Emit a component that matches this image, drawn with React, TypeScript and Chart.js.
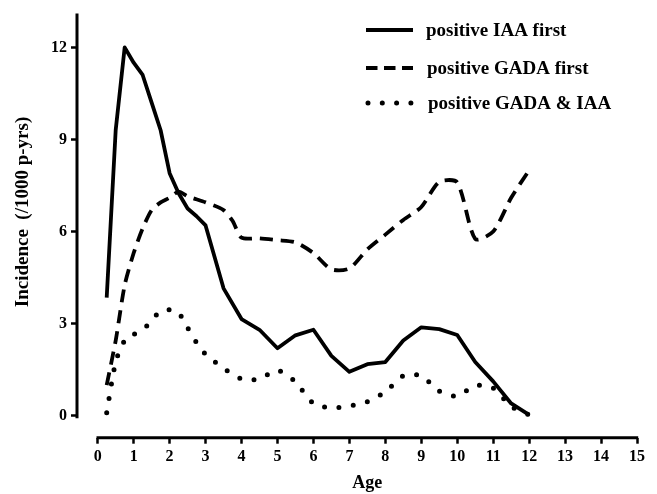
import React, { useEffect, useRef } from "react";
import { Chart, registerables } from "chart.js";

Chart.register(...registerables);

// Age (years) and incidence (/1000 person-years) per series
const ageIAA = [0.25, 0.5, 0.75, 1, 1.25, 1.5, 1.75, 2, 2.25, 2.5, 2.75, 3, 3.5, 4, 4.5, 5, 5.5, 6, 6.5, 7, 7.5, 8, 8.5, 9, 9.5, 10, 10.5, 11, 11.5, 12];
const valIAA = [3.85, 9.3, 12.0, 11.5, 11.1, 10.2, 9.3, 7.9, 7.25, 6.75, 6.5, 6.2, 4.15, 3.15, 2.8, 2.2, 2.62, 2.8, 1.95, 1.43, 1.68, 1.75, 2.45, 2.88, 2.82, 2.63, 1.75, 1.12, 0.4, 0.03];

const ageGADA = [0.25, 0.5, 0.75, 1, 1.25, 1.5, 1.75, 2, 2.25, 2.5, 3, 3.5, 3.75, 4, 4.5, 5, 5.5, 6, 6.5, 7, 7.5, 8, 8.5, 9, 9.5, 10, 10.5, 11, 11.5, 12];
const valGADA = [1.0, 2.45, 4.25, 5.3, 6.1, 6.7, 6.95, 7.1, 7.3, 7.15, 6.95, 6.7, 6.35, 5.8, 5.78, 5.72, 5.65, 5.3, 4.77, 4.8, 5.42, 5.9, 6.38, 6.8, 7.62, 7.6, 5.76, 6.0, 7.1, 8.0];

const ageBoth = [0.25, 0.5, 0.75, 1, 1.25, 1.5, 1.75, 2, 2.25, 2.5, 2.75, 3, 3.5, 4, 4.5, 5, 5.5, 6, 6.5, 7, 7.5, 8, 8.5, 9, 9.5, 10, 10.5, 11, 11.5, 12];
const valBoth = [0.1, 1.75, 2.45, 2.65, 2.8, 3.1, 3.42, 3.45, 3.35, 2.87, 2.38, 2.0, 1.55, 1.2, 1.2, 1.48, 1.1, 0.4, 0.26, 0.32, 0.46, 0.78, 1.3, 1.3, 0.8, 0.64, 0.98, 0.9, 0.3, 0.03];

const seriesLabels = ["positive IAA first", "positive GADA first", "positive GADA & IAA"];
const xTicks = [0, 1, 2, 3, 4, 5, 6, 7, 8, 9, 10, 11, 12, 13, 14, 15];
const yTicks = [0, 3, 6, 9, 12];
const xTitle = "Age";
const yTitle = "Incidence  (/1000 p-yrs)";

const FONT = '"Liberation Serif", "Times New Roman", serif';

const toPts = (xs: number[], ys: number[]) => xs.map((x, i) => ({ x, y: ys[i] }));

const decorPlugin = {
  id: "decor",
  afterDraw(chart: any) {
    const ctx = chart.ctx;
    const xs = chart.scales.x;
    const ys = chart.scales.y;
    const area = chart.chartArea;
    ctx.save();
    ctx.strokeStyle = "#000";
    ctx.fillStyle = "#000";
    ctx.lineCap = "butt";
    ctx.setLineDash([]);
    // y axis line
    ctx.lineWidth = 3;
    ctx.beginPath();
    ctx.moveTo(area.left, area.top);
    ctx.lineTo(area.left, ys.getPixelForValue(-0.08));
    ctx.stroke();
    // x axis line (offset)
    ctx.beginPath();
    ctx.moveTo(xs.getPixelForValue(0) - 1.2, area.bottom);
    ctx.lineTo(xs.getPixelForValue(15) + 1.2, area.bottom);
    ctx.stroke();

    // titles
    ctx.textAlign = "center";
    ctx.textBaseline = "alphabetic";
    ctx.font = `bold 18px ${FONT}`;
    const xc = (xs.getPixelForValue(0) + xs.getPixelForValue(15)) / 2;
    ctx.fillText(xTitle, xc, 488);
    ctx.save();
    ctx.font = `bold 19px ${FONT}`;
    ctx.translate(28, 212);
    ctx.rotate(-Math.PI / 2);
    ctx.fillText(yTitle, 0, 0);
    ctx.restore();

    // legend
    const rows = [30, 68, 103];
    const textX = [426, 427, 428];
    chart.data.datasets.forEach((ds: any, i: number) => {
      const y = rows[i];
      ctx.save();
      ctx.strokeStyle = ds.borderColor;
      ctx.lineWidth = ds.borderWidth;
      ctx.lineCap = ds.borderCapStyle || "butt";
      if (i === 1) ctx.setLineDash([11.5, 6.5]);
      else if (i === 2) ctx.setLineDash([0, 14.3]);
      else ctx.setLineDash([]);
      ctx.beginPath();
      ctx.moveTo(i === 2 ? 368 : 366, y);
      ctx.lineTo(413, y);
      ctx.stroke();
      ctx.restore();
      ctx.font = `bold 19px ${FONT}`;
      ctx.textAlign = "left";
      ctx.textBaseline = "middle";
      ctx.fillText(ds.label, textX[i], y + 1);
    });
    ctx.restore();
  },
};

export default function App() {
  const ref = useRef<HTMLCanvasElement | null>(null);
  useEffect(() => {
    document.body.style.margin = "0";
    if (!ref.current) return;
    const chart = new Chart(ref.current, {
      type: "line",
      data: {
        datasets: [
          {
            label: seriesLabels[0],
            data: toPts(ageIAA, valIAA),
            borderColor: "#000",
            borderWidth: 3.8,
            tension: 0,
            pointRadius: 0,
            borderCapStyle: "butt",
            borderJoinStyle: "round",
          },
          {
            label: seriesLabels[1],
            data: toPts(ageGADA, valGADA),
            borderColor: "#000",
            borderWidth: 3.8,
            borderDash: [13, 8],
            tension: 0.25,
            pointRadius: 0,
            borderCapStyle: "butt",
          },
          {
            label: seriesLabels[2],
            data: toPts(ageBoth, valBoth),
            borderColor: "#000",
            borderWidth: 5,
            borderDash: [0, 14.5],
            tension: 0.25,
            pointRadius: 0,
            borderCapStyle: "round",
          },
        ],
      },
      options: {
        animation: false,
        responsive: false,
        events: [],
        layout: { padding: { top: 13, right: 20, left: 0, bottom: 0 } },
        plugins: {
          legend: { display: false },
          tooltip: { enabled: false },
          title: { display: false },
        },
        scales: {
          x: {
            type: "linear",
            min: -0.576,
            max: 15,
            afterBuildTicks: (s: any) => {
              s.ticks = xTicks.map((v) => ({ value: v }));
            },
            afterFit: (s: any) => {
              s.height = 56.3;
            },
            ticks: {
              autoSkip: false,
              maxRotation: 0,
              padding: 4,
              color: "#000",
              font: { family: FONT, size: 16, weight: "bold" },
              callback: (v: any) => String(v),
            },
            grid: {
              display: true,
              drawOnChartArea: false,
              drawTicks: true,
              tickLength: 6,
              tickWidth: 2.5,
              tickColor: "#000",
            },
            border: { display: false },
          },
          y: {
            type: "linear",
            min: -0.715,
            max: 13.1,
            afterBuildTicks: (s: any) => {
              s.ticks = yTicks.map((v) => ({ value: v }));
            },
            afterFit: (s: any) => {
              s.width = 77;
            },
            ticks: {
              autoSkip: false,
              padding: 4,
              color: "#000",
              font: { family: FONT, size: 16, weight: "bold" },
              callback: (v: any) => String(v),
            },
            grid: {
              display: true,
              drawOnChartArea: false,
              drawTicks: true,
              tickLength: 6,
              tickWidth: 2.5,
              tickColor: "#000",
            },
            border: { display: false },
          },
        },
      },
      plugins: [decorPlugin],
    } as any);
    return () => chart.destroy();
  }, []);
  return (
    <div style={{ width: 657, height: 494, background: "#fff" }}>
      <canvas ref={ref} width={657} height={494} style={{ display: "block" }} />
    </div>
  );
}
